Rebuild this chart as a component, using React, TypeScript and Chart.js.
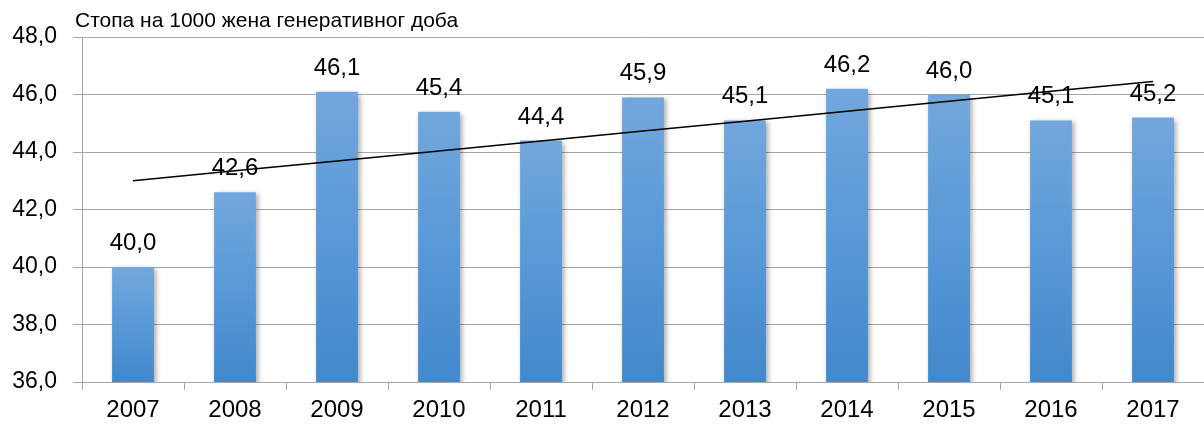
import React, { useEffect, useRef } from 'react';
import { Chart, registerables } from 'chart.js';

Chart.register(...registerables);

const years: string[] = ['2007', '2008', '2009', '2010', '2011', '2012', '2013', '2014', '2015', '2016', '2017'];
const rates: number[] = [40.0, 42.6, 46.1, 45.4, 44.4, 45.9, 45.1, 46.2, 46.0, 45.1, 45.2];
const titleText = 'Стопа на 1000 жена генеративног доба';
const yMin = 36;
const yMax = 48;
const yStep = 2;

// Linear (least-squares) trend line derived from the data, like Excel's trendline
function linearTrend(values: number[]): number[] {
  const n = values.length;
  const mx = (n - 1) / 2;
  const my = values.reduce((a, b) => a + b, 0) / n;
  let sxy = 0;
  let sxx = 0;
  values.forEach((v, i) => {
    sxy += (i - mx) * (v - my);
    sxx += (i - mx) * (i - mx);
  });
  const slope = sxy / sxx;
  return values.map((_, i) => my + slope * (i - mx));
}

const fmt = (v: number) => v.toFixed(1).replace('.', ',');

export default function App() {
  const canvasRef = useRef<HTMLCanvasElement | null>(null);

  useEffect(() => {
    const canvas = canvasRef.current;
    if (!canvas) return;

    const titlePlugin = {
      id: 'topTitle',
      afterDraw(chart: any) {
        const ctx = chart.ctx;
        ctx.save();
        ctx.font = '21px Arial, "Liberation Sans", sans-serif';
        ctx.fillStyle = '#000';
        ctx.textAlign = 'left';
        ctx.textBaseline = 'alphabetic';
        ctx.fillText(titleText, 75, 27);
        ctx.restore();
      },
    };

    const shadowPlugin = {
      id: 'barShadow',
      beforeDatasetDraw(chart: any, args: any) {
        if (args.index !== 1) return;
        const ctx = chart.ctx;
        ctx.save();
        ctx.shadowColor = 'rgba(0,0,0,0.35)';
        ctx.shadowBlur = 5;
        ctx.shadowOffsetX = 2;
        ctx.shadowOffsetY = 2;
      },
      afterDatasetDraw(chart: any, args: any) {
        if (args.index !== 1) return;
        chart.ctx.restore();
      },
    };

    const labelPlugin = {
      id: 'barLabels',
      afterDatasetsDraw(chart: any) {
        const meta = chart.getDatasetMeta(1);
        const ctx = chart.ctx;
        ctx.save();
        ctx.font = '24px Arial, "Liberation Sans", sans-serif';
        ctx.fillStyle = '#000';
        ctx.textAlign = 'center';
        ctx.textBaseline = 'alphabetic';
        meta.data.forEach((el: any, i: number) => {
          ctx.fillText(fmt(rates[i]), el.x, el.y - 17);
        });
        ctx.restore();
      },
    };

    const barColor = (c: any) => {
      const chart = c.chart;
      const y = chart.scales && chart.scales.y;
      if (!chart.chartArea || !y || c.dataIndex === undefined) return '#5b9bd5';
      const top = y.getPixelForValue(rates[c.dataIndex]);
      const bottom = y.getPixelForValue(yMin);
      const g = chart.ctx.createLinearGradient(0, top, 0, bottom);
      g.addColorStop(0, 'rgb(114,167,220)');
      g.addColorStop(0.5, 'rgb(88,153,215)');
      g.addColorStop(1, 'rgb(66,136,203)');
      return g;
    };

    const chart = new Chart(canvas, {
      type: 'bar',
      data: {
        labels: years,
        datasets: [
          {
            type: 'line',
            label: 'trend',
            data: linearTrend(rates),
            borderColor: '#000',
            borderWidth: 1.5,
            pointRadius: 0,
            fill: false,
            order: 0,
          } as any,
          {
            type: 'bar',
            label: 'rate',
            data: rates,
            backgroundColor: barColor,
            borderWidth: 0,
            barPercentage: 0.41,
            categoryPercentage: 1,
            order: 1,
          } as any,
        ],
      },
      options: {
        responsive: false,
        animation: false,
        maintainAspectRatio: false,
        layout: { padding: { top: 37, left: 0, right: 0, bottom: 0 } },
        plugins: {
          legend: { display: false },
          tooltip: { enabled: false },
          title: { display: false },
        },
        scales: {
          x: {
            offset: true,
            grid: {
              display: true,
              offset: true,
              drawOnChartArea: false,
              drawTicks: true,
              tickLength: 8,
              color: '#a6a6a6',
            },
            border: { display: true, color: '#a6a6a6', width: 1 },
            ticks: {
              color: '#000',
              padding: 6,
              maxRotation: 0,
              font: { family: 'Arial, "Liberation Sans", sans-serif', size: 24 },
            },
            afterFit(scale: any) {
              scale.height = 45;
            },
          },
          y: {
            min: yMin,
            max: yMax,
            ticks: {
              stepSize: yStep,
              color: '#000',
              padding: 16,
              font: { family: 'Arial, "Liberation Sans", sans-serif', size: 23 },
              callback: (v: any) => fmt(Number(v)),
            },
            grid: {
              color: '#a6a6a6',
              lineWidth: 1,
              tickLength: 9,
              drawTicks: true,
            },
            border: { display: true, color: '#a6a6a6', width: 1 },
            afterFit(scale: any) {
              scale.width = 82;
            },
          },
        },
      },
      plugins: [titlePlugin, shadowPlugin, labelPlugin],
    } as any);

    return () => {
      chart.destroy();
    };
  }, []);

  return (
    <div style={{ position: 'absolute', left: 0, top: 0, width: 1204, height: 427, background: '#fff' }}>
      <canvas ref={canvasRef} width={1204} height={427} style={{ display: 'block', width: 1204, height: 427 }} />
    </div>
  );
}
